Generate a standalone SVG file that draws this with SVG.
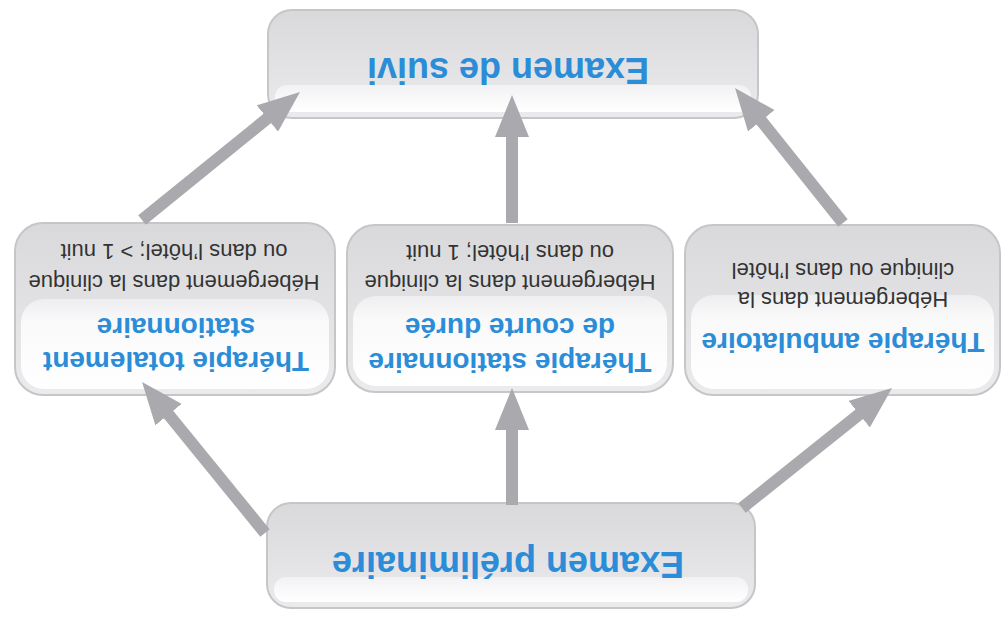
<svg xmlns="http://www.w3.org/2000/svg" width="1002" height="618" viewBox="0 0 1002 618">
<defs>
<linearGradient id="body" x1="0" y1="0" x2="0" y2="1">
<stop offset="0" stop-color="#ebebed"/>
<stop offset="1" stop-color="#d9d9dc"/>
</linearGradient>
<linearGradient id="gloss" x1="0" y1="0" x2="0" y2="1">
<stop offset="0" stop-color="#ffffff"/>
<stop offset="0.75" stop-color="#f9f9fa"/>
<stop offset="1" stop-color="#eeeef0"/>
</linearGradient>
<linearGradient id="band" x1="0" y1="0" x2="0" y2="1">
<stop offset="0" stop-color="#ffffff"/>
<stop offset="1" stop-color="#f2f2f4"/>
</linearGradient>
<marker id="ah" markerUnits="userSpaceOnUse" markerWidth="44" markerHeight="34" viewBox="0 0 44 34" refX="2" refY="17" orient="auto">
<path d="M0,0 L42,17 L0,34 z" fill="#aaaaae"/>
</marker>
</defs>
<style>
.rim{fill:url(#body);stroke:#c6c6c9;stroke-width:2}
.gloss{fill:url(#gloss)}
.band{fill:url(#band)}
.title{font-family:"Liberation Sans",Arial,sans-serif;font-weight:bold;fill:#2b8dd8;text-anchor:middle}
.big{font-size:36px}
.mid{font-size:28px}
.desc{font-family:"Liberation Sans",Arial,sans-serif;fill:#333333;font-size:22px;text-anchor:middle}
.arrow{stroke:#aaaaae;stroke-width:12;fill:none;marker-end:url(#ah)}
</style>
<rect width="1002" height="618" fill="#ffffff"/>
<g transform="rotate(180 501 309)">
<g id="node-suivi">
<rect class="rim" x="244" y="500" width="490" height="108" rx="24"/>
<rect class="band" x="251" y="506" width="476" height="27" rx="12"/>
<text class="title big" x="494" y="560">Examen de suivi</text>
</g>
<g id="node-preliminaire">
<rect class="rim" x="247" y="10" width="488" height="105" rx="24"/>
<rect class="band" x="254" y="16" width="474" height="25" rx="12"/>
<text class="title big" x="494" y="66">Examen préliminaire</text>
</g>
<g id="node-totalement">
<rect class="rim" x="667" y="223" width="320" height="172" rx="28"/>
<rect class="gloss" x="673" y="229" width="308" height="90" rx="23"/>
<text class="title mid" x="826" y="266">Thérapie totalement</text>
<text class="title mid" x="826" y="300">stationnaire</text>
<text class="desc" x="828" y="343">Hébergement dans la clinique</text>
<text class="desc" x="828" y="374">ou dans l’hôtel; &gt; 1 nuit</text>
</g>
<g id="node-courte">
<rect class="rim" x="329" y="226" width="326" height="167" rx="28"/>
<rect class="gloss" x="335" y="232" width="314" height="90" rx="23"/>
<text class="title mid" x="492" y="265">Thérapie stationnaire</text>
<text class="title mid" x="492" y="300">de courte durée</text>
<text class="desc" x="492" y="343">Hébergement dans la clinique</text>
<text class="desc" x="492" y="373">ou dans l’hôtel; 1 nuit</text>
</g>
<g id="node-ambulatoire">
<rect class="rim" x="2" y="223" width="315" height="170" rx="28"/>
<rect class="gloss" x="8" y="229" width="303" height="94" rx="23"/>
<text class="title mid" x="159" y="285">Thérapie ambulatoire</text>
<text class="desc" x="159" y="326">Hébergement dans la</text>
<text class="desc" x="159" y="355">clinique ou dans l’hôtel</text>
</g>
<g id="connectors">
<line class="arrow" x1="737" y1="85" x2="834.7" y2="205"/>
<line class="arrow" x1="490" y1="113" x2="490" y2="190"/>
<line class="arrow" x1="260" y1="110" x2="141.2" y2="205"/>
<line class="arrow" x1="860" y1="398" x2="733.1" y2="500.8"/>
<line class="arrow" x1="490" y1="395" x2="490" y2="483"/>
<line class="arrow" x1="159" y1="395" x2="242" y2="498.8"/>
</g>
</g>
</svg>
